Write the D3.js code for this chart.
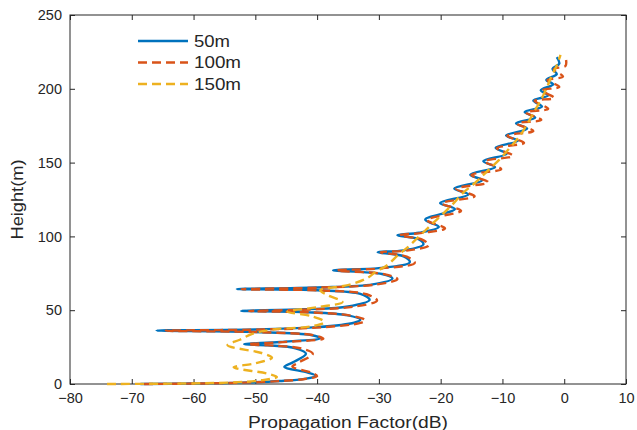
<!DOCTYPE html>
<html>
<head>
<meta charset="utf-8">
<script src="https://cdn.jsdelivr.net/npm/d3@7"></script>
<style>
  body { margin: 0; background: #fff; }
  text { font-family: "Liberation Sans", Arial, sans-serif; fill: #262626; }
</style>
</head>
<body>
<svg id="chart"></svg>
<script>
const margin = {top: 15, right: 11, bottom: 46, left: 70},
    svgWidth = 637,
    svgHeight = 430,
    width = svgWidth - margin.left - margin.right,
    height = svgHeight - margin.top - margin.bottom;

// series: [propagation factor (dB), height (m)]
const series50 = [
    [-68.6, 0.0], [-60, 0.3], [-52, 0.9], [-46, 2.0], [-42, 3.5], [-40.2, 5.5],
    [-41.5, 7.8], [-45.3, 11.5], [-44, 14.5], [-41.8, 20.5], [-43.5, 24.2], [-48, 26.2],
    [-51.8, 27.0], [-46, 28.5], [-39.5, 31], [-41, 33.2], [-50, 35.2], [-66, 36.2],
    [-50, 37.0], [-40, 38.5], [-34, 41.5], [-33, 43.5], [-35, 46.5], [-42, 48.7],
    [-52.3, 49.5], [-42, 50.6], [-35, 52.5], [-31.5, 57], [-33, 61], [-40, 63.5],
    [-53, 64.3], [-40, 65.4], [-31, 67.5], [-27.8, 71.5], [-29.5, 74.5], [-37.4, 77],
    [-30, 78.5], [-25, 82.5], [-26, 86.5], [-30.2, 89.3], [-26, 90.5], [-22.8, 94.5],
    [-23.5, 98], [-27, 100.8], [-23.5, 102.5], [-20.3, 106.5], [-22.5, 111.3], [-17.7, 118.5],
    [-20.1, 122.6], [-15.5, 128.4], [-17.8, 132.4], [-13.3, 138], [-15.2, 141.8], [-11.2, 147],
    [-13.1, 151], [-9.3, 156], [-11.1, 160], [-7.5, 164.8], [-9.4, 168.4], [-6.0, 173],
    [-7.8, 176.6], [-4.7, 180.5], [-6.4, 184.2], [-3.6, 188], [-5.0, 192], [-2.6, 195.5],
    [-3.8, 199], [-1.8, 203], [-2.9, 206], [-1.2, 210], [-1.9, 213.5], [-0.8, 217],
    [-1.2, 221.5]
];

const series100 = [
    [-68, 0.0], [-60, 0.3], [-52, 0.9], [-46, 2.0], [-42, 3.4], [-40.0, 5.3],
    [-41.0, 7.8], [-44.0, 11.8], [-43, 14.5], [-40.7, 20.5], [-42.5, 24.0], [-47, 26.0],
    [-51.2, 26.9], [-45.5, 28.4], [-39, 30.8], [-40.5, 33.0], [-49, 35.1], [-64.5, 36.1],
    [-49, 36.9], [-39, 38.5], [-33, 41.4], [-32.2, 43.2], [-34.5, 46.3], [-41.5, 48.6],
    [-51, 49.4], [-41, 50.5], [-34, 52.4], [-30.3, 56.5], [-32, 60.8], [-39.5, 63.4],
    [-52.2, 64.2], [-39.5, 65.3], [-30.5, 67.4], [-27.0, 71], [-29, 74.3], [-36.8, 76.9],
    [-29.5, 78.4], [-24.2, 82], [-25.5, 86.3], [-29.7, 89.2], [-25.5, 90.4], [-21.9, 94],
    [-23, 97.8], [-26.6, 100.7], [-23, 102.4], [-19.3, 105.5], [-22.2, 111.1], [-16.7, 117.3],
    [-19.8, 122.4], [-14.5, 127.2], [-17.5, 132.2], [-12.3, 136.7], [-15.0, 141.6], [-10.2, 145.6],
    [-12.9, 150.8], [-8.3, 154.6], [-10.9, 159.8], [-6.5, 163.3], [-9.2, 168.2], [-5.0, 171.4],
    [-7.6, 176.4], [-3.7, 178.9], [-6.2, 184], [-2.6, 186.4], [-4.8, 191.8], [-1.6, 193.8],
    [-3.6, 198.8], [-0.8, 201.3], [-2.7, 205.8], [-0.2, 208.3], [-1.7, 213.3], [0.2, 215.5],
    [0.3, 219.5]
];

const series150 = [
    [-74, 0.0], [-62, 0.3], [-54, 1.0], [-49, 2.5], [-46.5, 4.8], [-48, 7],
    [-53.5, 11.3], [-50, 14], [-47.3, 17.8], [-49, 21], [-54.5, 26.3], [-52.5, 30],
    [-50.5, 34], [-47, 37], [-41, 39], [-38.8, 42], [-41, 46], [-44.8, 49],
    [-40, 52], [-35.9, 55.5], [-38.3, 60.2], [-39.5, 63.5], [-35, 67], [-32, 71.5],
    [-30.5, 76], [-28.5, 81], [-27, 87], [-25.5, 92], [-24, 98], [-22.5, 104],
    [-21, 110], [-19.7, 115], [-18, 122], [-16.5, 129], [-14.5, 136], [-12.5, 144],
    [-10.5, 152], [-8.8, 160], [-7.2, 168], [-6.0, 176], [-4.8, 185], [-3.7, 193],
    [-2.8, 201], [-2.0, 209], [-1.2, 216], [-0.6, 223]
];

const legendLabels = ["50m", "100m", "150m"];
const xTicks = [-80, -70, -60, -50, -40, -30, -20, -10, 0, 10];
const yTicks = [0, 50, 100, 150, 200, 250];

const colors = ["#0072BD", "#D95319", "#EDB120"];
const dashes = [null, "9,5", "9,5"];

const chart = d3.select("#chart")
    .attr("width", svgWidth)
    .attr("height", svgHeight);

const g = chart.append("g").attr("transform", `translate(${margin.left},${margin.top})`);

var xScale = d3.scaleLinear().domain([-80, 10]).range([0, width]);
var yScale = d3.scaleLinear().domain([0, 250]).range([height, 0]);

// axes (matlab style box, ticks inside)
function styleAxis(sel) {
    sel.select(".domain").remove();
    sel.selectAll(".tick line").attr("stroke", "#262626");
    sel.selectAll(".tick text").style("font-size", "14.5px").attr("fill", "#333");
}

g.append("g").attr("transform", `translate(0,${height})`)
    .call(d3.axisBottom(xScale).tickValues(xTicks).tickSizeInner(-5).tickSizeOuter(0).tickPadding(9))
    .call(styleAxis);
g.append("g")
    .call(d3.axisLeft(yScale).tickValues(yTicks).tickSizeInner(-5).tickSizeOuter(0).tickPadding(8))
    .call(styleAxis);
g.append("g")
    .call(d3.axisTop(xScale).tickValues(xTicks).tickSizeInner(-5).tickSizeOuter(0).tickFormat(""))
    .call(styleAxis);
g.append("g").attr("transform", `translate(${width},0)`)
    .call(d3.axisRight(yScale).tickValues(yTicks).tickSizeInner(-5).tickSizeOuter(0).tickFormat(""))
    .call(styleAxis);

g.append("rect")
    .attr("width", width).attr("height", height)
    .attr("fill", "none").attr("stroke", "#262626").attr("stroke-width", 1);

// labels
g.append("text")
    .attr("x", width / 2).attr("y", height + 44)
    .attr("text-anchor", "middle")
    .style("font-size", "16px")
    .attr("textLength", 200).attr("lengthAdjust", "spacingAndGlyphs")
    .text("Propagation Factor(dB)");

g.append("text")
    .attr("transform", `translate(${-margin.left + 23},${height / 2}) rotate(-90)`)
    .attr("text-anchor", "middle")
    .style("font-size", "16px")
    .attr("textLength", 80).attr("lengthAdjust", "spacingAndGlyphs")
    .text("Height(m)");

// lines
var valueline = d3.line()
    .x(function(d) { return xScale(d[0]); })
    .y(function(d) { return yScale(d[1]); })
    .curve(d3.curveCatmullRom.alpha(0.5));

[series50, series100, series150].forEach(function(s, i) {
    g.append("path")
        .datum(s)
        .attr("d", valueline)
        .attr("fill", "none")
        .attr("stroke", colors[i])
        .attr("stroke-width", 2.4)
        .attr("stroke-dasharray", dashes[i])
        .attr("stroke-linejoin", "round");
});

// legend
const legend = chart.append("g").attr("transform", "translate(138,41)");
legendLabels.forEach(function(lab, i) {
    var row = legend.append("g").attr("transform", `translate(0,${i * 21.5})`);
    row.append("line")
        .attr("x1", 0).attr("x2", 50)
        .attr("stroke", colors[i])
        .attr("stroke-width", 2.4)
        .attr("stroke-dasharray", dashes[i]);
    row.append("text")
        .attr("x", 56).attr("dy", "0.36em")
        .style("font-size", "16px")
        .attr("textLength", lab.length == 3 ? 36 : 47).attr("lengthAdjust", "spacingAndGlyphs")
        .text(lab);
});
</script>
</body>
</html>
